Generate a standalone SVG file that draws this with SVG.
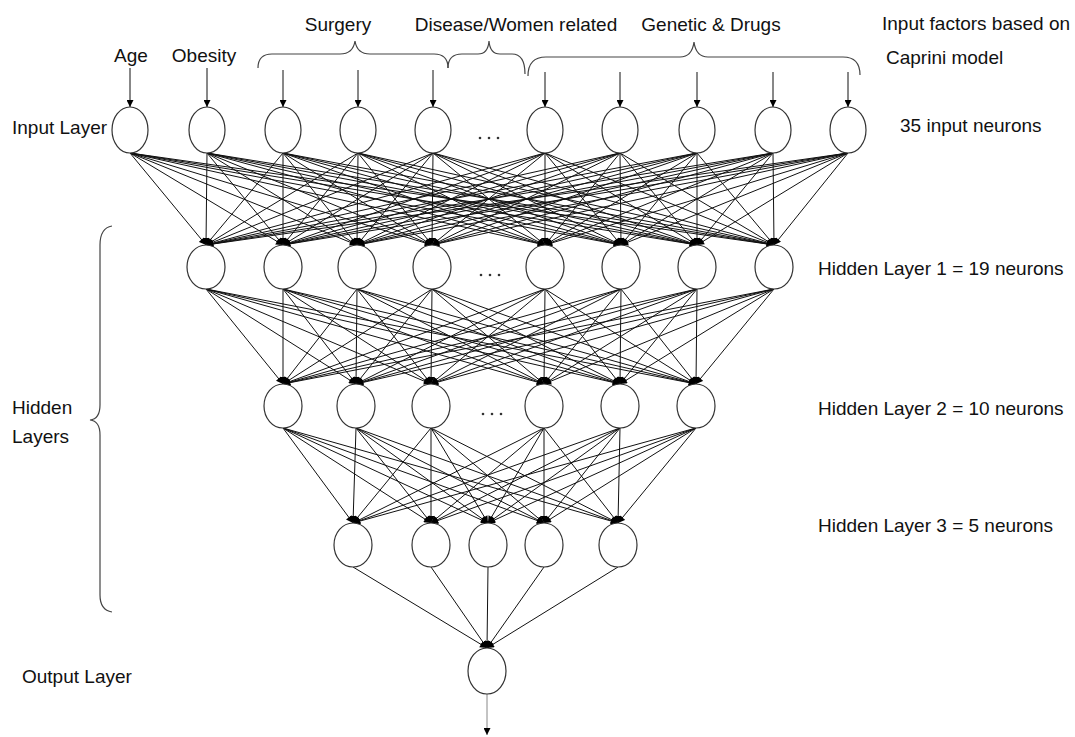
<svg xmlns="http://www.w3.org/2000/svg" width="1075" height="737" viewBox="0 0 1075 737">
<defs>
<marker id="ah" viewBox="0 0 10 10" refX="10" refY="5" markerWidth="9" markerHeight="7" markerUnits="userSpaceOnUse" orient="auto"><path d="M0,0 L10,5 L0,10 z" fill="#000"/></marker>
<style>
.t{font-family:"Liberation Sans",Arial,sans-serif;font-size:19px;fill:#111}
.m{text-anchor:middle}
.n{fill:#fff;stroke:#333;stroke-width:1.2}
.br{fill:none;stroke:#444;stroke-width:1.2}
#connectors line{stroke:#111;stroke-width:1;marker-end:url(#ah)}
.dot{fill:#333}
</style>
</defs>
<rect width="1075" height="737" fill="#fff"/>

<g id="labels">
<text class="t m" x="131" y="62">Age</text>
<text class="t m" x="204" y="62">Obesity</text>
<text class="t m" x="338" y="31">Surgery</text>
<text class="t m" x="516" y="31">Disease/Women related</text>
<text class="t m" x="711" y="31">Genetic &amp; Drugs</text>
<text class="t" x="882" y="30">Input factors based on</text>
<text class="t" x="886" y="64">Caprini model</text>
<text class="t" x="12" y="134">Input Layer</text>
<text class="t" x="900" y="132">35 input neurons</text>
<text class="t" x="818" y="275">Hidden Layer 1 = 19 neurons</text>
<text class="t" x="818" y="415">Hidden Layer 2 = 10 neurons</text>
<text class="t" x="818" y="532">Hidden Layer 3 = 5 neurons</text>
<text class="t" x="12" y="414">Hidden</text>
<text class="t" x="12" y="443">Layers</text>
<text class="t" x="22" y="683">Output Layer</text>
</g>

<g id="braces">
<path class="br" d="M258,68 Q258,54 272,54 L340,54 Q353,54 355,41 Q357,54 370,54 L434,54 Q448,54 448,68"/>
<path class="br" d="M448,68 Q448,54 462,54 L478,54 Q488,54 489,41 Q490,54 500,54 L512,54 Q525,54 525,74"/>
<path class="br" d="M528,76 Q528,57 546,57 L680,57 Q692,57 694,42 Q696,57 708,57 L843,57 Q860,57 860,75"/>
<path class="br" d="M112,226 Q100,228 100,245 L100,405 Q100,419 90,420 Q100,421 100,435 L100,595 Q100,610 112,612"/>
</g>

<g id="connectors">
<!-- input arrows -->
<line x1="130" y1="68" x2="130" y2="107"/>
<line x1="207" y1="68" x2="207" y2="107"/>
<line x1="283" y1="70" x2="283" y2="107"/>
<line x1="358" y1="70" x2="358" y2="107"/>
<line x1="433" y1="70" x2="433" y2="107"/>
<line x1="545" y1="72" x2="545" y2="107"/>
<line x1="620" y1="72" x2="620" y2="107"/>
<line x1="697" y1="72" x2="697" y2="107"/>
<line x1="773" y1="72" x2="773" y2="107"/>
<line x1="848" y1="72" x2="848" y2="107"/>
<!-- input -> hidden1 -->
<line x1="130" y1="153" x2="206" y2="245"/><line x1="130" y1="153" x2="283" y2="245"/><line x1="130" y1="153" x2="357" y2="245"/><line x1="130" y1="153" x2="432" y2="245"/><line x1="130" y1="153" x2="545" y2="245"/><line x1="130" y1="153" x2="621" y2="245"/><line x1="130" y1="153" x2="697" y2="245"/><line x1="130" y1="153" x2="774" y2="245"/>
<line x1="207" y1="153" x2="206" y2="245"/><line x1="207" y1="153" x2="283" y2="245"/><line x1="207" y1="153" x2="357" y2="245"/><line x1="207" y1="153" x2="432" y2="245"/><line x1="207" y1="153" x2="545" y2="245"/><line x1="207" y1="153" x2="621" y2="245"/><line x1="207" y1="153" x2="697" y2="245"/><line x1="207" y1="153" x2="774" y2="245"/>
<line x1="283" y1="153" x2="206" y2="245"/><line x1="283" y1="153" x2="283" y2="245"/><line x1="283" y1="153" x2="357" y2="245"/><line x1="283" y1="153" x2="432" y2="245"/><line x1="283" y1="153" x2="545" y2="245"/><line x1="283" y1="153" x2="621" y2="245"/><line x1="283" y1="153" x2="697" y2="245"/><line x1="283" y1="153" x2="774" y2="245"/>
<line x1="358" y1="153" x2="206" y2="245"/><line x1="358" y1="153" x2="283" y2="245"/><line x1="358" y1="153" x2="357" y2="245"/><line x1="358" y1="153" x2="432" y2="245"/><line x1="358" y1="153" x2="545" y2="245"/><line x1="358" y1="153" x2="621" y2="245"/><line x1="358" y1="153" x2="697" y2="245"/><line x1="358" y1="153" x2="774" y2="245"/>
<line x1="433" y1="153" x2="206" y2="245"/><line x1="433" y1="153" x2="283" y2="245"/><line x1="433" y1="153" x2="357" y2="245"/><line x1="433" y1="153" x2="432" y2="245"/><line x1="433" y1="153" x2="545" y2="245"/><line x1="433" y1="153" x2="621" y2="245"/><line x1="433" y1="153" x2="697" y2="245"/><line x1="433" y1="153" x2="774" y2="245"/>
<line x1="545" y1="153" x2="206" y2="245"/><line x1="545" y1="153" x2="283" y2="245"/><line x1="545" y1="153" x2="357" y2="245"/><line x1="545" y1="153" x2="432" y2="245"/><line x1="545" y1="153" x2="545" y2="245"/><line x1="545" y1="153" x2="621" y2="245"/><line x1="545" y1="153" x2="697" y2="245"/><line x1="545" y1="153" x2="774" y2="245"/>
<line x1="620" y1="153" x2="206" y2="245"/><line x1="620" y1="153" x2="283" y2="245"/><line x1="620" y1="153" x2="357" y2="245"/><line x1="620" y1="153" x2="432" y2="245"/><line x1="620" y1="153" x2="545" y2="245"/><line x1="620" y1="153" x2="621" y2="245"/><line x1="620" y1="153" x2="697" y2="245"/><line x1="620" y1="153" x2="774" y2="245"/>
<line x1="697" y1="153" x2="206" y2="245"/><line x1="697" y1="153" x2="283" y2="245"/><line x1="697" y1="153" x2="357" y2="245"/><line x1="697" y1="153" x2="432" y2="245"/><line x1="697" y1="153" x2="545" y2="245"/><line x1="697" y1="153" x2="621" y2="245"/><line x1="697" y1="153" x2="697" y2="245"/><line x1="697" y1="153" x2="774" y2="245"/>
<line x1="773" y1="153" x2="206" y2="245"/><line x1="773" y1="153" x2="283" y2="245"/><line x1="773" y1="153" x2="357" y2="245"/><line x1="773" y1="153" x2="432" y2="245"/><line x1="773" y1="153" x2="545" y2="245"/><line x1="773" y1="153" x2="621" y2="245"/><line x1="773" y1="153" x2="697" y2="245"/><line x1="773" y1="153" x2="774" y2="245"/>
<line x1="848" y1="153" x2="206" y2="245"/><line x1="848" y1="153" x2="283" y2="245"/><line x1="848" y1="153" x2="357" y2="245"/><line x1="848" y1="153" x2="432" y2="245"/><line x1="848" y1="153" x2="545" y2="245"/><line x1="848" y1="153" x2="621" y2="245"/><line x1="848" y1="153" x2="697" y2="245"/><line x1="848" y1="153" x2="774" y2="245"/>
<!-- hidden1 -> hidden2 -->
<line x1="206" y1="289" x2="283" y2="384"/><line x1="206" y1="289" x2="356" y2="384"/><line x1="206" y1="289" x2="431" y2="384"/><line x1="206" y1="289" x2="544" y2="384"/><line x1="206" y1="289" x2="620" y2="384"/><line x1="206" y1="289" x2="696" y2="384"/>
<line x1="283" y1="289" x2="283" y2="384"/><line x1="283" y1="289" x2="356" y2="384"/><line x1="283" y1="289" x2="431" y2="384"/><line x1="283" y1="289" x2="544" y2="384"/><line x1="283" y1="289" x2="620" y2="384"/><line x1="283" y1="289" x2="696" y2="384"/>
<line x1="357" y1="289" x2="283" y2="384"/><line x1="357" y1="289" x2="356" y2="384"/><line x1="357" y1="289" x2="431" y2="384"/><line x1="357" y1="289" x2="544" y2="384"/><line x1="357" y1="289" x2="620" y2="384"/><line x1="357" y1="289" x2="696" y2="384"/>
<line x1="432" y1="289" x2="283" y2="384"/><line x1="432" y1="289" x2="356" y2="384"/><line x1="432" y1="289" x2="431" y2="384"/><line x1="432" y1="289" x2="544" y2="384"/><line x1="432" y1="289" x2="620" y2="384"/><line x1="432" y1="289" x2="696" y2="384"/>
<line x1="545" y1="289" x2="283" y2="384"/><line x1="545" y1="289" x2="356" y2="384"/><line x1="545" y1="289" x2="431" y2="384"/><line x1="545" y1="289" x2="544" y2="384"/><line x1="545" y1="289" x2="620" y2="384"/><line x1="545" y1="289" x2="696" y2="384"/>
<line x1="621" y1="289" x2="283" y2="384"/><line x1="621" y1="289" x2="356" y2="384"/><line x1="621" y1="289" x2="431" y2="384"/><line x1="621" y1="289" x2="544" y2="384"/><line x1="621" y1="289" x2="620" y2="384"/><line x1="621" y1="289" x2="696" y2="384"/>
<line x1="697" y1="289" x2="283" y2="384"/><line x1="697" y1="289" x2="356" y2="384"/><line x1="697" y1="289" x2="431" y2="384"/><line x1="697" y1="289" x2="544" y2="384"/><line x1="697" y1="289" x2="620" y2="384"/><line x1="697" y1="289" x2="696" y2="384"/>
<line x1="774" y1="289" x2="283" y2="384"/><line x1="774" y1="289" x2="356" y2="384"/><line x1="774" y1="289" x2="431" y2="384"/><line x1="774" y1="289" x2="544" y2="384"/><line x1="774" y1="289" x2="620" y2="384"/><line x1="774" y1="289" x2="696" y2="384"/>
<!-- hidden2 -> hidden3 -->
<line x1="283" y1="428" x2="353" y2="523"/><line x1="283" y1="428" x2="431" y2="523"/><line x1="283" y1="428" x2="488" y2="523"/><line x1="283" y1="428" x2="544" y2="523"/><line x1="283" y1="428" x2="618" y2="523"/>
<line x1="356" y1="428" x2="353" y2="523"/><line x1="356" y1="428" x2="431" y2="523"/><line x1="356" y1="428" x2="488" y2="523"/><line x1="356" y1="428" x2="544" y2="523"/><line x1="356" y1="428" x2="618" y2="523"/>
<line x1="431" y1="428" x2="353" y2="523"/><line x1="431" y1="428" x2="431" y2="523"/><line x1="431" y1="428" x2="488" y2="523"/><line x1="431" y1="428" x2="544" y2="523"/><line x1="431" y1="428" x2="618" y2="523"/>
<line x1="544" y1="428" x2="353" y2="523"/><line x1="544" y1="428" x2="431" y2="523"/><line x1="544" y1="428" x2="488" y2="523"/><line x1="544" y1="428" x2="544" y2="523"/><line x1="544" y1="428" x2="618" y2="523"/>
<line x1="620" y1="428" x2="353" y2="523"/><line x1="620" y1="428" x2="431" y2="523"/><line x1="620" y1="428" x2="488" y2="523"/><line x1="620" y1="428" x2="544" y2="523"/><line x1="620" y1="428" x2="618" y2="523"/>
<line x1="696" y1="428" x2="353" y2="523"/><line x1="696" y1="428" x2="431" y2="523"/><line x1="696" y1="428" x2="488" y2="523"/><line x1="696" y1="428" x2="544" y2="523"/><line x1="696" y1="428" x2="618" y2="523"/>
<!-- hidden3 -> output -->
<line x1="353" y1="567" x2="487" y2="648"/><line x1="431" y1="567" x2="487" y2="648"/><line x1="488" y1="567" x2="487" y2="648"/><line x1="544" y1="567" x2="487" y2="648"/><line x1="618" y1="567" x2="487" y2="648"/>
<!-- output arrow -->
<line x1="487" y1="694" x2="487" y2="735" style="stroke:#888"/>
</g>

<g id="input-layer">
<g id="in1"><ellipse class="n" cx="130" cy="130" rx="18" ry="23"/></g>
<g id="in2"><ellipse class="n" cx="207" cy="130" rx="18" ry="23"/></g>
<g id="in3"><ellipse class="n" cx="283" cy="130" rx="18" ry="23"/></g>
<g id="in4"><ellipse class="n" cx="358" cy="130" rx="18" ry="23"/></g>
<g id="in5"><ellipse class="n" cx="433" cy="130" rx="18" ry="23"/></g>
<g id="in6"><ellipse class="n" cx="545" cy="130" rx="18" ry="23"/></g>
<g id="in7"><ellipse class="n" cx="620" cy="130" rx="18" ry="23"/></g>
<g id="in8"><ellipse class="n" cx="697" cy="130" rx="18" ry="23"/></g>
<g id="in9"><ellipse class="n" cx="773" cy="130" rx="18" ry="23"/></g>
<g id="in10"><ellipse class="n" cx="848" cy="130" rx="18" ry="23"/></g>
<g id="in-dots"><circle class="dot" cx="480" cy="138" r="1.3"/><circle class="dot" cx="489" cy="138" r="1.3"/><circle class="dot" cx="498" cy="138" r="1.3"/></g>
</g>

<g id="hidden1">
<g id="h1a"><ellipse class="n" cx="206" cy="267" rx="19" ry="22"/></g>
<g id="h1b"><ellipse class="n" cx="283" cy="267" rx="19" ry="22"/></g>
<g id="h1c"><ellipse class="n" cx="357" cy="267" rx="19" ry="22"/></g>
<g id="h1d"><ellipse class="n" cx="432" cy="267" rx="19" ry="22"/></g>
<g id="h1e"><ellipse class="n" cx="545" cy="267" rx="19" ry="22"/></g>
<g id="h1f"><ellipse class="n" cx="621" cy="267" rx="19" ry="22"/></g>
<g id="h1g"><ellipse class="n" cx="697" cy="267" rx="19" ry="22"/></g>
<g id="h1h"><ellipse class="n" cx="774" cy="267" rx="19" ry="22"/></g>
<g id="h1-dots"><circle class="dot" cx="481" cy="275" r="1.3"/><circle class="dot" cx="490" cy="275" r="1.3"/><circle class="dot" cx="499" cy="275" r="1.3"/></g>
</g>

<g id="hidden2">
<g id="h2a"><ellipse class="n" cx="283" cy="406" rx="19" ry="22"/></g>
<g id="h2b"><ellipse class="n" cx="356" cy="406" rx="19" ry="22"/></g>
<g id="h2c"><ellipse class="n" cx="431" cy="406" rx="19" ry="22"/></g>
<g id="h2d"><ellipse class="n" cx="544" cy="406" rx="19" ry="22"/></g>
<g id="h2e"><ellipse class="n" cx="620" cy="406" rx="19" ry="22"/></g>
<g id="h2f"><ellipse class="n" cx="696" cy="406" rx="19" ry="22"/></g>
<g id="h2-dots"><circle class="dot" cx="483" cy="414" r="1.3"/><circle class="dot" cx="492" cy="414" r="1.3"/><circle class="dot" cx="501" cy="414" r="1.3"/></g>
</g>

<g id="hidden3">
<g id="h3a"><ellipse class="n" cx="353" cy="545" rx="19" ry="22"/></g>
<g id="h3b"><ellipse class="n" cx="431" cy="545" rx="19" ry="22"/></g>
<g id="h3c"><ellipse class="n" cx="488" cy="545" rx="19" ry="22"/></g>
<g id="h3d"><ellipse class="n" cx="544" cy="545" rx="19" ry="22"/></g>
<g id="h3e"><ellipse class="n" cx="618" cy="545" rx="19" ry="22"/></g>
</g>

<g id="output">
<g id="out1"><ellipse class="n" cx="487" cy="671" rx="19" ry="23"/></g>
</g>
</svg>
